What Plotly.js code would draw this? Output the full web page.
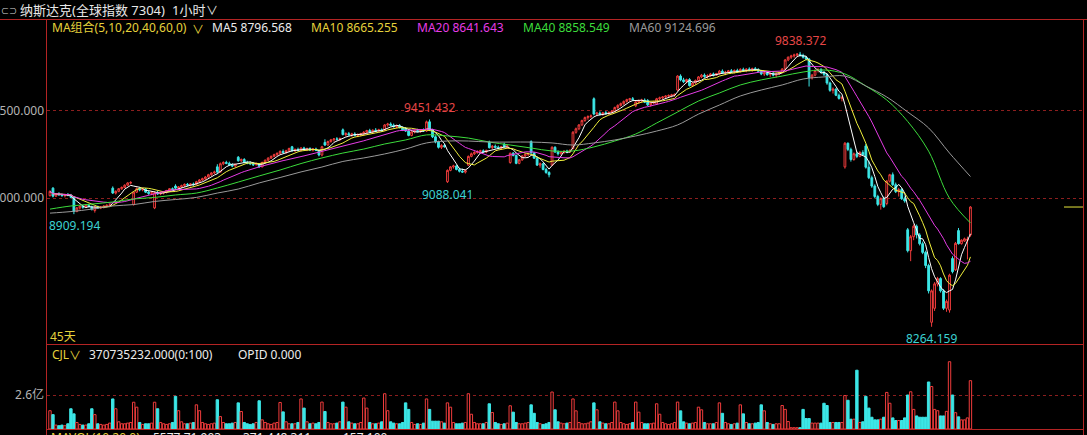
<!DOCTYPE html>
<html><head><meta charset="utf-8">
<script src="https://cdn.plot.ly/plotly-3.0.1.min.js"></script>
<style>html,body{margin:0;padding:0;background:#000;overflow:hidden}#chart{width:1087px;height:435px}</style>
</head><body><div id="chart"></div>
<script>
// ---- data (hourly bars, 45 trading days, 7 bars per day) ----
const opens = [
9015,9058,9012,9025,9020,9015,9022, 9018,9005,8925,8945,8955,8948,8960, 8950,8930,8950,8945,8950,8955,8960,
9058,9030,9040,9055,9062,9075,9088, 8965,9035,9055,9048,9052,9035,9028, 8945,9032,9025,9030,9035,9045,9055,
9070,9058,9065,9072,9080,9076,9082, 9080,9095,9105,9112,9122,9135,9145, 9180,9150,9198,9205,9200,9190,9185,
9235,9215,9222,9205,9200,9198,9192, 9195,9180,9205,9218,9230,9240,9250, 9258,9268,9262,9272,9295,9272,9280,
9275,9288,9280,9284,9276,9282,9274, 9248,9320,9305,9325,9335,9340,9338, 9392,9365,9370,9362,9368,9360,9365,
9370,9378,9388,9380,9390,9385,9392, 9390,9420,9425,9418,9410,9415,9405, 9400,9385,9360,9380,9388,9382,9390,
9385,9438,9392,9352,9322,9292,9302, 9095,9160,9180,9185,9165,9155,9150, 9190,9240,9255,9262,9268,9272,9265,
9322,9290,9298,9292,9288,9310,9294, 9205,9258,9245,9200,9220,9242,9252, 9325,9260,9230,9190,9198,9165,9148,
9190,9292,9265,9255,9262,9270,9265, 9285,9378,9398,9420,9445,9462,9468, 9570,9482,9488,9480,9490,9485,9492,
9498,9520,9532,9542,9555,9565,9570, 9530,9552,9558,9562,9560,9535,9545, 9540,9570,9575,9580,9585,9588,9592,
9620,9700,9678,9668,9680,9645,9660, 9675,9695,9705,9698,9702,9712,9705, 9715,9728,9718,9722,9730,9725,9732,
9728,9738,9732,9740,9735,9742,9736, 9728,9712,9718,9708,9715,9705,9712, 9720,9740,9792,9808,9815,9820,9825,
9818,9808,9798,9690,9705,9732,9738, 9722,9710,9660,9618,9625,9590,9572, 9180,9315,9280,9222,9255,9240,9262,
9300,9178,9118,9070,9010,8965,8998, 8970,9098,9135,9078,9038,9050,8998, 8820,8700,8780,8840,8790,8740,8690,
8615,8290,8370,8510,8540,8470,8370, 8360,8655,8590,8815,8740,8755,8760, 8790];
const highs = [
9045,9064,9030,9035,9028,9025,9030, 9025,9012,8950,8960,8962,8965,8968, 8958,8955,8958,8955,8960,8965,8970,
9068,9045,9058,9068,9080,9092,9098, 9040,9062,9065,9060,9058,9045,9040, 9040,9042,9038,9040,9048,9058,9062,
9080,9070,9078,9085,9088,9086,9090, 9100,9110,9118,9128,9140,9150,9158, 9195,9205,9212,9215,9210,9200,9198,
9242,9228,9230,9215,9212,9208,9205, 9200,9210,9222,9235,9245,9255,9262, 9275,9280,9278,9290,9300,9285,9290,
9292,9295,9290,9292,9288,9290,9280, 9300,9338,9330,9340,9345,9350,9348, 9400,9378,9380,9375,9378,9372,9375,
9385,9392,9398,9395,9402,9398,9400, 9425,9432,9435,9428,9422,9425,9412, 9408,9390,9385,9392,9398,9395,9400,
9445,9451.432,9398,9360,9330,9310,9312, 9165,9185,9192,9190,9175,9170,9165, 9245,9262,9270,9275,9278,9280,9278,
9330,9305,9308,9302,9300,9318,9305, 9262,9265,9250,9225,9248,9258,9262, 9332,9265,9238,9205,9202,9175,9155,
9298,9298,9275,9270,9275,9278,9280, 9385,9405,9425,9450,9468,9475,9480, 9578,9495,9498,9495,9500,9498,9505,
9525,9538,9548,9560,9570,9575,9580, 9558,9565,9570,9572,9568,9548,9558, 9575,9582,9585,9590,9595,9598,9600,
9705,9710,9690,9685,9688,9665,9680, 9700,9712,9715,9710,9718,9720,9718, 9735,9738,9730,9735,9740,9738,9742,
9745,9748,9745,9750,9748,9752,9745, 9735,9725,9728,9720,9725,9718,9725, 9745,9798,9812,9822,9828,9832,9838.372,
9828,9815,9802,9712,9738,9745,9745, 9730,9715,9668,9635,9630,9600,9585, 9322,9320,9290,9262,9268,9270,9275,
9312,9215,9130,9080,9020,9005,9010, 9105,9140,9148,9090,9060,9058,9010, 8830,8790,8850,8850,8800,8752,8700,
8625,8478,8520,8550,8548,8480,8420, 8568,8668,8750,8830,8765,8775,8780, 8955];
const lows = [
9010,9005,9008,9015,9010,9005,9012, 9000,8909.194,8920,8935,8940,8945,8948, 8930,8918,8940,8938,8942,8948,8952,
9025,9022,9035,9048,9058,9070,9080, 8958,9030,9040,9040,9030,9020,9018, 8938,9020,9018,9022,9028,9040,9045,
9052,9050,9058,9065,9070,9068,9072, 9075,9088,9098,9105,9118,9128,9138, 9140,9148,9190,9195,9185,9178,9180,
9210,9208,9200,9195,9190,9185,9188, 9175,9178,9200,9212,9225,9235,9242, 9250,9258,9255,9265,9268,9265,9270,
9268,9275,9270,9272,9268,9270,9240, 9240,9300,9300,9318,9325,9330,9328, 9360,9355,9360,9352,9355,9350,9355,
9360,9372,9375,9372,9382,9378,9380, 9385,9410,9412,9405,9400,9400,9385, 9380,9355,9355,9372,9378,9375,9380,
9380,9385,9345,9315,9285,9282,9290, 9088.041,9155,9170,9160,9148,9145,9142, 9185,9235,9248,9255,9258,9260,9258,
9285,9282,9285,9280,9278,9290,9285, 9198,9240,9195,9195,9215,9235,9240, 9255,9225,9185,9175,9160,9140,9120,
9185,9260,9245,9250,9255,9258,9260, 9280,9370,9390,9415,9438,9450,9458, 9475,9470,9475,9472,9478,9476,9485,
9492,9512,9525,9535,9548,9555,9558, 9522,9540,9548,9545,9528,9525,9538, 9535,9560,9565,9570,9575,9578,9582,
9615,9670,9660,9658,9640,9638,9652, 9668,9688,9690,9685,9695,9698,9700, 9708,9712,9705,9715,9718,9715,9720,
9720,9725,9722,9728,9725,9730,9722, 9705,9700,9702,9695,9698,9692,9705, 9715,9735,9785,9798,9805,9808,9812,
9800,9790,9640,9680,9698,9720,9715, 9700,9650,9610,9600,9585,9565,9555, 9170,9270,9210,9215,9230,9235,9245,
9170,9110,9060,9000,8955,8935,8945, 8960,9090,9070,9030,9010,8990,8975, 8690,8640,8760,8770,8730,8680,8600,
8455,8264.159,8355,8495,8460,8360,8350, 8345,8570,8585,8735,8735,8750,8650, 8780];
const closes = [
9040,9012,9025,9020,9015,9022,9018, 9005,8925,8945,8955,8948,8960,8952, 8938,8950,8945,8950,8955,8960,8962,
9030,9040,9055,9062,9075,9088,9090, 9035,9055,9048,9052,9035,9028,9032, 9032,9025,9030,9035,9045,9055,9050,
9058,9065,9072,9080,9076,9082,9078, 9095,9105,9112,9122,9135,9145,9150, 9150,9198,9205,9200,9190,9185,9195,
9215,9222,9205,9200,9198,9192,9200, 9180,9205,9218,9230,9240,9250,9258, 9268,9262,9272,9285,9272,9280,9275,
9288,9280,9284,9276,9282,9274,9248, 9295,9305,9325,9335,9340,9338,9342, 9365,9370,9362,9368,9360,9365,9370,
9378,9388,9380,9390,9385,9392,9388, 9420,9425,9418,9410,9415,9405,9392, 9385,9360,9380,9388,9382,9390,9385,
9438,9392,9352,9322,9292,9302,9295, 9160,9180,9185,9165,9155,9150,9158, 9240,9255,9262,9268,9272,9265,9275,
9290,9298,9292,9288,9295,9294,9300, 9258,9245,9200,9220,9242,9252,9255, 9260,9230,9190,9198,9165,9148,9135,
9292,9265,9255,9262,9270,9265,9275, 9378,9398,9420,9445,9462,9468,9472, 9482,9488,9480,9490,9485,9492,9498,
9520,9532,9542,9555,9565,9570,9565, 9552,9558,9562,9550,9535,9545,9552, 9570,9575,9580,9585,9588,9592,9595,
9700,9678,9668,9680,9645,9660,9675, 9695,9705,9698,9702,9712,9705,9715, 9728,9718,9722,9730,9725,9732,9728,
9738,9732,9740,9735,9742,9736,9728, 9712,9718,9708,9715,9705,9712,9720, 9740,9792,9808,9815,9820,9825,9818,
9808,9798,9690,9705,9732,9738,9722, 9710,9660,9618,9625,9590,9572,9578, 9315,9280,9222,9255,9240,9262,9250,
9178,9118,9070,9010,8965,8998,8952, 9098,9135,9078,9038,9050,8998,8985, 8700,8780,8840,8790,8740,8690,8615,
8470,8470,8510,8540,8470,8370,8410, 8560,8580,8742,8740,8760,8768,8765, 8950];
// volume in 亿
const volumes = [
1.4,1.1,0.3,0.25,0.3,0.25,0.4, 1.55,1.16,0.5,0.35,0.3,0.3,0.4, 1.55,1.1,0.4,0.35,0.3,0.35,0.45,
2.3,1.55,0.55,0.4,0.4,0.45,0.5, 2.05,1.67,0.5,0.35,0.4,0.4,0.45, 2.05,1.55,0.5,0.4,0.35,0.4,0.5,
2.5,1.4,0.55,0.4,0.4,0.45,0.5, 1.85,1.4,0.5,0.4,0.35,0.4,0.45, 2.24,0.95,0.5,0.4,0.4,0.45,0.5,
2.0,1.34,0.5,0.4,0.35,0.4,0.5, 2.16,0.7,0.5,0.4,0.35,0.45,0.5, 2.03,1.31,0.55,0.4,0.4,0.4,0.5,
2.3,1.6,0.55,0.4,0.45,0.4,0.5, 2.06,1.34,0.5,0.4,0.4,0.45,0.55, 2.06,1.67,0.55,0.45,0.4,0.4,0.5,
2.37,1.6,0.5,0.4,0.4,0.45,0.55, 2.7,1.4,0.55,0.45,0.4,0.4,0.5, 2.0,1.5,0.5,0.35,0.4,0.35,0.45,
2.3,1.5,0.6,0.6,0.6,0.55,0.45, 2.0,1.67,0.5,0.4,0.4,0.45,0.5, 2.7,1.13,0.5,0.4,0.4,0.4,0.5,
1.93,1.26,0.5,0.4,0.35,0.4,0.45, 1.78,1.29,0.5,0.4,0.4,0.45,0.5, 1.85,1.2,0.5,0.4,0.35,0.4,0.5,
2.83,1.47,0.55,0.45,0.4,0.45,0.5, 2.3,1.39,0.5,0.4,0.4,0.45,0.55, 2.0,1.47,0.55,0.45,0.4,0.4,0.5,
2.06,1.39,0.5,0.4,0.35,0.4,0.5, 2.06,1.29,0.5,0.4,0.4,0.4,0.45, 1.93,1.13,0.5,0.4,0.35,0.4,0.5,
2.06,1.39,0.55,0.45,0.4,0.45,0.5, 1.67,1.47,0.5,0.4,0.4,0.4,0.5, 2.0,1.2,0.5,0.4,0.35,0.4,0.45,
1.85,1.16,0.5,0.4,0.4,0.45,0.5, 1.85,1.39,0.5,0.4,0.35,0.4,0.4, 1.8,1.5,0.57,0.1,0.1,0.1,0.1,
1.5,0.8,0.8,0.45,0.45,0.45,0.45, 1.97,1.8,0.5,0.5,0.5,0.5,0.5, 2.56,2.2,0.75,0.75,4.5,0.5,0.55,
2.5,1.6,0.9,0.7,0.7,0.75,0.9, 2.8,1.97,0.85,0.65,0.65,0.65,0.85, 2.6,2.85,1.5,1.0,0.9,0.9,0.9,
3.6,3.25,1.5,1.4,1.0,1.0,1.35, 5.15,2.6,1.25,0.93,0.7,0.7,0.85, 3.7];
// MA40 / MA60 at each day's first bar
const dayStarts = [0,7,14,21,28,35,42,49,56,63,70,77,84,91,98,105,112,119,126,133,140,147,154,161,168,175,182,189,196,203,210,217,224,231,238,245,252,259,266,273,280,287,294,301,308];
const ma40 = [8938,8956,8967,8979,8996,9005,9019,9030,9059,9093,9128,9162,9199,9231,9259,9282,9311,9334,9363,9357,9345,9322,9305,9288,9271,9271,9294,9328,9368,9431,9494,9557,9603,9649,9678,9700,9723,9735,9712,9643,9563,9440,9270,9000,8858.549];
const ma60 = [8915,8924,8938,8956,8964,8982,8993,9005,9030,9053,9088,9119,9151,9179,9211,9231,9254,9282,9317,9328,9328,9322,9322,9322,9317,9305,9317,9334,9357,9385,9420,9482,9534,9586,9620,9649,9683,9695,9700,9643,9580,9494,9403,9259,9124.696];
const highMarks = [127, 251];
const lowMarks = [8, 133, 295];
const titleText = '纳斯达克(全球指数 7304)';
const periodText = '1小时';
const maComboText = 'MA组合(5,10,20,40,60,0)';
const maLabels = ['MA5 8796.568','MA10 8665.255','MA20 8641.643','MA40 8858.549','MA60 9124.696'];
const daysText = '45天';
const volHeader = ['CJL','370735232.000(0:100)','OPID 0.000'];
const bottomRow = ['MAVOL(10,20,0)','5577.71.903','371.448.311','157.100'];
const priceTicks = [9000, 9500];
const volTicks = [2.6];

// ---- drawing ----
const idx = closes.map((_, i) => i);
function sma(arr, n) {
  return arr.map((_, i) => { const s = Math.max(0, i - n + 1); let t = 0; for (let k = s; k <= i; k++) t += arr[k]; return t / (i - s + 1); });
}
const RED = '#f03c3c', CYAN = '#3ce6e6', YEL = '#e6d23c', MAG = '#e63ce6', GRN = '#3cdc3c', GRY = '#9a9a9a';
const FONT = 'Noto Sans, Noto Sans CJK SC, sans-serif';
const up = closes.map((c, i) => c >= opens[i]);

const traces = [
  {type:'candlestick', x: idx, open: opens, high: highs, low: lows, close: closes, xaxis:'x', yaxis:'y',
   increasing:{line:{color:RED, width:1}, fillcolor:'#000'}, decreasing:{line:{color:CYAN, width:1}, fillcolor:CYAN},
   whiskerwidth:0, hoverinfo:'skip'},
  {type:'scatter', mode:'lines', x: idx, y: sma(closes,5), line:{color:'#ffffff', width:1}, yaxis:'y', hoverinfo:'skip'},
  {type:'scatter', mode:'lines', x: idx, y: sma(closes,10), line:{color:'#f0f03c', width:1}, yaxis:'y', hoverinfo:'skip'},
  {type:'scatter', mode:'lines', x: idx, y: sma(closes,20), line:{color:MAG, width:1}, yaxis:'y', hoverinfo:'skip'},
  {type:'scatter', mode:'lines', x: dayStarts, y: ma40, line:{color:GRN, width:1, shape:'spline'}, yaxis:'y', hoverinfo:'skip'},
  {type:'scatter', mode:'lines', x: dayStarts, y: ma60, line:{color:GRY, width:1, shape:'spline'}, yaxis:'y', hoverinfo:'skip'},
  {type:'bar', x: idx, y: volumes, yaxis:'y2', hoverinfo:'skip',
   marker:{color: up.map(u => u ? '#000' : CYAN), line:{color: up.map(u => u ? RED : CYAN), width:1}}}
];

const W = 1087, H = 435, ML = 47, MR = 4, MT = 20, MB = 6;
const PW = W - ML - MR, PH = H - MT - MB;
const px = x => (x - ML) / PW;        // pixel -> paper x
const py = y => (H - MB - y) / PH;    // pixel -> paper y
const xRange = [-1, (PW - 3 + 50 - 47) / 3 + 0.33];

function txt(x, y, text, color, size, anchor) {
  return {xref:'paper', yref:'paper', x: px(x), y: py(y), xanchor: anchor || 'left', yanchor:'middle',
          text, showarrow:false, font:{family:FONT, size: size || 12, color}, borderpad:0};
}
const ann = [
  txt(0, 10, '⊂⊃', '#d8d8d8', 8),
  txt(19, 10, titleText, '#e8e8e8', 13),
  txt(171, 10, periodText, '#e8e8e8', 13),
  txt(205, 10, '∨', '#e8e8e8', 12),
  txt(51, 28, maComboText, YEL, 12),
  txt(191, 29, '∨', YEL, 12),
  txt(211, 28, maLabels[0], '#ececec', 12),
  txt(310, 28, maLabels[1], YEL, 12),
  txt(416, 28, maLabels[2], MAG, 12),
  txt(522, 28, maLabels[3], GRN, 12),
  txt(628, 28, maLabels[4], GRY, 12),
  txt(49, 336, daysText, YEL, 12),
  txt(51, 354, volHeader[0], YEL, 12),
  txt(68, 355, '∨', YEL, 12),
  txt(88, 354, volHeader[1], '#ececec', 12),
  txt(237, 354, volHeader[2], '#ececec', 12),
  txt(50, 437, bottomRow[0], YEL, 12),
  txt(152, 437, bottomRow[1], '#ececec', 12),
  txt(242, 437, bottomRow[2], '#ececec', 12),
  txt(342, 437, bottomRow[3], '#ececec', 12)
];
highMarks.forEach(i => ann.push({xref:'x', yref:'y', x:i, y:highs[i], yanchor:'bottom', xanchor:'center', yshift:1,
  text: highs[i].toFixed(3), showarrow:false, font:{family:FONT, size:12, color:'#e64646'}}));
lowMarks.forEach(i => {
  const a = {xref:'x', yref:'y', x:i, y:lows[i], yanchor:'top', xanchor:'center', yshift:-1,
    text: lows[i].toFixed(3), showarrow:false, font:{family:FONT, size:12, color:'#3cd2d2'}};
  if (i < 12) { a.x = xRange[0]; a.xanchor = 'left'; }
  ann.push(a);
});

const LC = '#b42424';
const shapes = [
  {type:'line', xref:'paper', yref:'paper', x0:px(0), x1:px(W), y0:py(19.5), y1:py(19.5), line:{color:LC, width:1}},
  {type:'line', xref:'paper', yref:'paper', x0:px(46.5), x1:px(46.5), y0:py(19.5), y1:py(H), line:{color:LC, width:1}},
  {type:'line', xref:'paper', yref:'paper', x0:px(1083.5), x1:px(1083.5), y0:py(19.5), y1:py(H), line:{color:LC, width:1}},
  {type:'line', xref:'paper', yref:'paper', x0:px(47), x1:px(1083), y0:py(344.5), y1:py(344.5), line:{color:LC, width:1}},
  {type:'line', xref:'paper', yref:'paper', x0:px(47), x1:px(1083), y0:py(429.5), y1:py(429.5), line:{color:LC, width:1}},
  {type:'line', xref:'paper', yref:'y', x0:px(1064), x1:px(1083), y0:closes[closes.length-1], y1:closes[closes.length-1], line:{color:'#e6e63c', width:1}}
];

const axisCommon = {showline:false, zeroline:false, ticks:'', gridcolor:'#8c1e1e', griddash:'3px,3px', gridwidth:1,
  tickfont:{family:FONT, size:12, color:'#b4b4b4'}, ticklabelstandoff:2, fixedrange:true};
const layout = {
  width: W, height: H, margin:{l:ML, r:MR, t:MT, b:MB, pad:0},
  paper_bgcolor:'#000', plot_bgcolor:'#000', showlegend:false, bargap:0.2, boxgap:0.15,
  xaxis:{range:xRange, showgrid:false, zeroline:false, showticklabels:false, ticks:'', rangeslider:{visible:false}, fixedrange:true},
  yaxis: Object.assign({domain:[(H - MB - 344) / PH, 1], range:[8165.6, 10021], tickvals: priceTicks,
    ticktext: priceTicks.map(v => v.toFixed(3))}, axisCommon),
  yaxis2: Object.assign({domain:[0, (H - MB - 345) / PH], range:[0, 6.43], anchor:'x', tickvals: volTicks,
    ticktext: volTicks.map(v => v + '亿')}, axisCommon),
  annotations: ann, shapes: shapes
};
Plotly.newPlot('chart', traces, layout, {staticPlot:true, displayModeBar:false});
</script></body></html>
